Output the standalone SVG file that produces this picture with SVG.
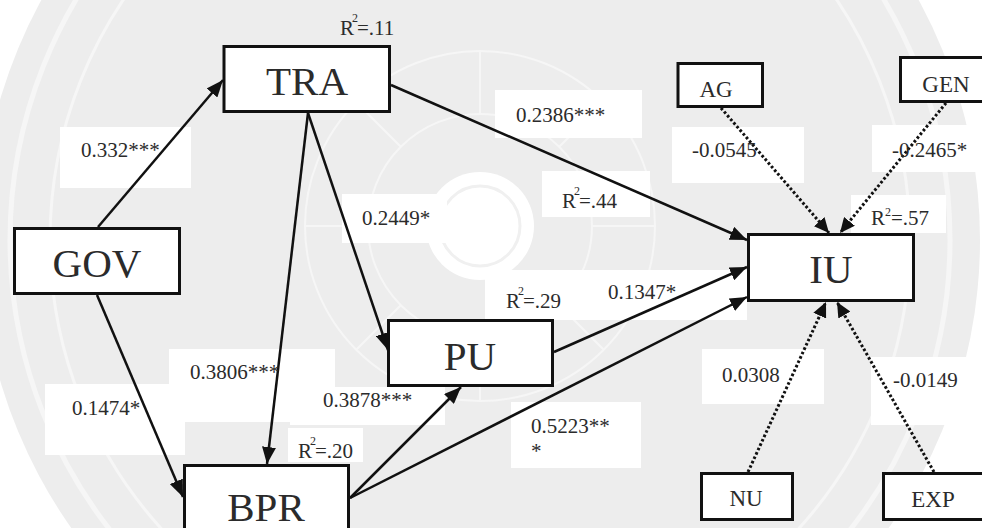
<svg xmlns="http://www.w3.org/2000/svg" width="982" height="528" viewBox="0 0 982 528">
  <defs>
    <style>
      .node { fill: #ffffff; stroke: #111111; stroke-width: 3; }
      .big { font-size: 41px; fill: #2b2b2b; text-anchor: middle; }
      .small { font-size: 23px; fill: #2b2b2b; text-anchor: middle; }
      .lbl { font-size: 21px; fill: #2b2b2b; }
      .sup { font-size: 12px; }
      .pad { fill: #ffffff; }
      .solid { fill: none; stroke: #111111; stroke-width: 2.5; marker-end: url(#ah); }
      .dotted { fill: none; stroke: #111111; stroke-width: 3; stroke-dasharray: 2.6 2.2; marker-end: url(#ahd); }
      .seal-line { fill: none; stroke: #f6f6f6; }
    </style>
    <marker id="ah" markerUnits="userSpaceOnUse" markerWidth="18" markerHeight="14" refX="17" refY="7" orient="auto">
      <path d="M0,0 L17,7 L0,14 z" fill="#111111"/>
    </marker>
    <marker id="ahd" markerUnits="userSpaceOnUse" markerWidth="16" markerHeight="14" refX="15" refY="7" orient="auto">
      <path d="M0,0 L15,7 L0,14 z" fill="#111111"/>
    </marker>
  </defs>

  <rect x="0" y="0" width="982" height="528" fill="#ffffff"/>

  <!-- faint seal in the background -->
  <g id="seal">
    <circle cx="480" cy="240" r="500" fill="#ededed"/>
    <circle class="seal-line" cx="480" cy="240" r="470" stroke-width="5"/>
    <circle class="seal-line" cx="480" cy="240" r="430" stroke-width="3"/>
    <circle class="seal-line" cx="480" cy="226" r="175" stroke-width="2"/>
    <circle class="seal-line" cx="480" cy="226" r="112" stroke-width="2"/>
    <g class="seal-line" stroke-width="2">
      <path d="M480,114 L480,50 M480,338 L480,400 M368,226 L305,226 M592,226 L655,226"/>
      <path d="M401,147 L356,102 M559,147 L604,102 M401,305 L356,350 M559,305 L604,350"/>
    </g>
    <circle cx="480" cy="226" r="54" fill="#ffffff"/>
    <circle cx="480" cy="226" r="40" fill="none" stroke="#f0f0f0" stroke-width="3"/>
  </g>

  <!-- white pads behind the path labels -->
  <g id="label-pads">
    <rect class="pad" x="60" y="127" width="131" height="61"/>
    <rect class="pad" x="495" y="90" width="147" height="48"/>
    <rect class="pad" x="542" y="171" width="108" height="46"/>
    <rect class="pad" x="342" y="194" width="105" height="49"/>
    <rect class="pad" x="672" y="127" width="132" height="56"/>
    <rect class="pad" x="872" y="125" width="110" height="47"/>
    <rect class="pad" x="851" y="195" width="95" height="38"/>
    <rect class="pad" x="485" y="270" width="262" height="50"/>
    <rect class="pad" x="169" y="349" width="166" height="73"/>
    <rect class="pad" x="290" y="387" width="155" height="38"/>
    <rect class="pad" x="45" y="384" width="140" height="71"/>
    <rect class="pad" x="288" y="428" width="75" height="34"/>
    <rect class="pad" x="511" y="402" width="130" height="66"/>
    <rect class="pad" x="702" y="349" width="122" height="55"/>
    <rect class="pad" x="871" y="357" width="111" height="68"/>
  </g>

  <!-- connectors -->
  <g id="connectors">
    <path class="solid" d="M98,227 L223,80"/>
    <path class="solid" d="M97,295 L183,497"/>
    <path class="solid" d="M308,113 L267,464"/>
    <path class="solid" d="M308,113 L388,350"/>
    <path class="solid" d="M391,85 L747,240"/>
    <path class="solid" d="M350,498 L461,387"/>
    <path class="solid" d="M350,498 L747,297"/>
    <path class="solid" d="M554,352 L747,267"/>
    <path class="dotted" d="M721,108 L829,233"/>
    <path class="dotted" d="M946,103 L840,233"/>
    <path class="dotted" d="M748,472 L826,302"/>
    <path class="dotted" d="M934,472 L837,302"/>
  </g>

  <g font-family="'Liberation Serif', 'DejaVu Serif', serif">
    <!-- path coefficients and explained variance -->
    <g id="labels">
      <text class="lbl" x="81" y="157">0.332***</text>
      <text class="lbl" x="516" y="122">0.2386***</text>
      <text class="lbl" x="362" y="225">0.2449*</text>
      <text class="lbl" x="190" y="379">0.3806***</text>
      <text class="lbl" x="323" y="407">0.3878***</text>
      <text class="lbl" x="72" y="415">0.1474*</text>
      <text class="lbl" x="608" y="299">0.1347*</text>
      <text class="lbl" x="531" y="433">0.5223**</text>
      <text class="lbl" x="531" y="458">*</text>
      <text class="lbl" x="692" y="157">-0.0545</text>
      <text class="lbl" x="892" y="157">-0.2465*</text>
      <text class="lbl" x="722" y="382">0.0308</text>
      <text class="lbl" x="893" y="387">-0.0149</text>
      <text class="lbl" x="340" y="35">R<tspan class="sup" dx="-2" dy="-13">2</tspan><tspan dx="-1" dy="13">=.11</tspan></text>
      <text class="lbl" x="562" y="208">R<tspan class="sup" dx="-2" dy="-13">2</tspan><tspan dx="-1" dy="13">=.44</tspan></text>
      <text class="lbl" x="506" y="308">R<tspan class="sup" dx="-2" dy="-13">2</tspan><tspan dx="-1" dy="13">=.29</tspan></text>
      <text class="lbl" x="298" y="458">R<tspan class="sup" dx="-2" dy="-13">2</tspan><tspan dx="-1" dy="13">=.20</tspan></text>
      <text class="lbl" x="871" y="225">R<tspan class="sup" dy="-9">2</tspan><tspan dy="9">=.57</tspan></text>
    </g>

    <!-- constructs -->
    <g id="node-TRA">
      <rect class="node" x="224" y="46.5" width="165.5" height="65"/>
      <text class="big" x="307" y="95">TRA</text>
    </g>
    <g id="node-GOV">
      <rect class="node" x="14.5" y="228.5" width="165" height="65"/>
      <text class="big" x="97" y="277">GOV</text>
    </g>
    <g id="node-BPR">
      <rect class="node" x="184.5" y="465.5" width="164" height="72"/>
      <text class="big" x="266" y="521">BPR</text>
    </g>
    <g id="node-PU">
      <rect class="node" x="388.5" y="320.5" width="164" height="65"/>
      <text class="big" x="470" y="370">PU</text>
    </g>
    <g id="node-IU">
      <rect class="node" x="748.5" y="234.5" width="165" height="66"/>
      <text class="big" x="831" y="283">IU</text>
    </g>

    <!-- control variables -->
    <g id="node-AG">
      <rect class="node" x="678" y="63.5" width="84.5" height="43"/>
      <text class="small" x="716" y="97">AG</text>
    </g>
    <g id="node-GEN">
      <rect class="node" x="900.5" y="57.5" width="90" height="44"/>
      <text class="small" x="946" y="92">GEN</text>
    </g>
    <g id="node-NU">
      <rect class="node" x="701.5" y="473.5" width="91" height="46"/>
      <text class="small" x="746" y="506">NU</text>
    </g>
    <g id="node-EXP">
      <rect class="node" x="883.5" y="473.5" width="102" height="46"/>
      <text class="small" x="933" y="507">EXP</text>
    </g>
  </g>
</svg>
